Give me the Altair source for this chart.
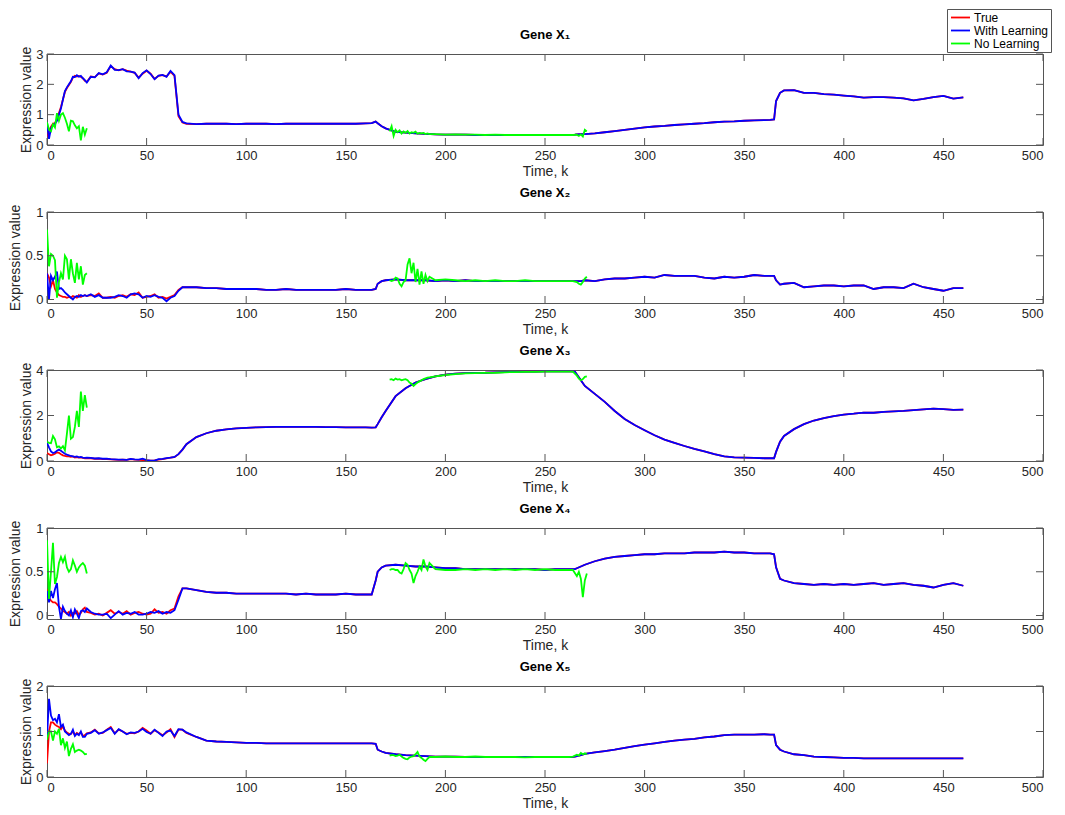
import altair as alt
import pandas as pd

FONT = "Liberation Sans"
FRAME = "#555555"
TXT = "#262626"

SERIES = ["True", "With Learning", "No Learning"]
COLORS = ["#ff0000", "#0000ff", "#00ff00"]

XTICKS = [0, 50, 100, 150, 200, 250, 300, 350, 400, 450, 500]
YTICKS = [[0, 1, 2, 3], [0, 0.5, 1], [0, 2, 4], [0, 0.5, 1], [0, 1, 2]]
YDOM = [[0, 3], [-0.04, 1], [0, 4], [-0.04, 1], [0, 2]]
TITLES = ["Gene X\u2081", "Gene X\u2082", "Gene X\u2083", "Gene X\u2084", "Gene X\u2085"]

# time grid of the True / With Learning curves
T = [0, 1, 2, 3, 4, 5, 6, 7, 8, 9, 10, 11, 12, 13, 14, 15, 16, 17, 18, 19, 20,
     22, 24, 26, 28, 30, 32, 34, 36, 38, 40, 42, 44, 46, 48, 50, 52, 54, 56, 58, 60, 62, 64, 66, 68, 70,
     75, 80, 85, 90, 95, 100, 105, 110, 115, 120, 125, 130, 135, 140, 145, 150, 155, 160,
     163, 165, 166, 168,
     170, 175, 180, 185, 190, 195, 200, 205, 210, 215, 220, 225, 230, 235, 240, 245, 250, 255, 260,
     263, 265, 266, 268,
     270, 275, 280, 285, 290, 295, 300, 305, 310, 315, 320, 325, 330, 335, 340, 345, 350, 355, 360,
     363, 365, 366, 368,
     370, 375, 380, 385, 390, 395, 400, 405, 410, 415, 420, 425, 430, 435, 440, 445, 450, 455, 460]

TRUE_X1 = [0.28, 0.45, 0.6, 0.7, 0.72, 0.85, 1.05, 1.25, 1.5, 1.75, 1.88, 1.98, 2.08, 2.22, 2.28, 2.26, 2.28, 2.25, 2.2, 2.12, 2.08,
           2.26, 2.24, 2.36, 2.32, 2.38, 2.6, 2.5, 2.46, 2.5, 2.45, 2.42, 2.38, 2.22, 2.35, 2.45, 2.35, 2.18, 2.28, 2.3, 2.26, 2.42, 2.28, 0.95, 0.74, 0.7,
           0.69, 0.7, 0.7, 0.7, 0.69, 0.7, 0.7, 0.7, 0.69, 0.7, 0.7, 0.7, 0.7, 0.7, 0.7, 0.7, 0.7, 0.71,
           0.72, 0.77, 0.72, 0.62,
           0.55, 0.43, 0.41, 0.38, 0.37, 0.35, 0.34, 0.34, 0.34, 0.33, 0.33, 0.33, 0.33, 0.33, 0.33, 0.33, 0.33, 0.33, 0.33,
           0.33, 0.34, 0.35, 0.36,
           0.36, 0.38, 0.42, 0.46, 0.5, 0.54, 0.58, 0.61, 0.63, 0.66, 0.68, 0.7, 0.72, 0.75, 0.77, 0.78, 0.8, 0.81, 0.82,
           0.83, 0.84, 1.45, 1.72,
           1.8, 1.81, 1.72, 1.72, 1.68, 1.66, 1.63, 1.6, 1.56, 1.58, 1.58, 1.56, 1.54, 1.47, 1.52, 1.58, 1.62, 1.53, 1.57]
LEARN_X1_EARLY = [0.75, 0.2, 0.55, 0.65, 0.7, 0.8, 1.0, 1.2, 1.5, 1.78, 1.9, 2.0, 2.1, 2.25, 2.24, 2.3, 2.25, 2.28, 2.2, 2.14, 2.06,
                  2.25, 2.23, 2.37, 2.33, 2.4, 2.62, 2.48, 2.47, 2.5, 2.43, 2.42, 2.39, 2.2, 2.37, 2.46, 2.34, 2.17, 2.29, 2.31, 2.25, 2.44, 2.3, 1.0, 0.76, 0.71]

TRUE_X2 = [0.3, 0.25, 0.15, 0.22, 0.12, 0.08, 0.05, 0.04, 0.03, 0.03, 0.02, 0.03, 0.02, 0.04, 0.03, 0.02, 0.05, 0.03, 0.04, 0.05, 0.04,
           0.05, 0.04, 0.07, 0.02, 0.02, 0.03, 0.02, 0.04, 0.05, 0.03, 0.06, 0.05, 0.08, 0.02, 0.03, 0.04, 0.06, 0.02, 0.03, 0.01, 0.03, 0.05, 0.11, 0.14, 0.14,
           0.14, 0.13, 0.13, 0.12, 0.12, 0.12, 0.12, 0.11, 0.11, 0.12, 0.11, 0.11, 0.11, 0.11, 0.11, 0.12, 0.11, 0.11,
           0.11, 0.12, 0.18, 0.21,
           0.22, 0.23, 0.22, 0.22, 0.22, 0.21, 0.22, 0.21, 0.22, 0.21, 0.21, 0.21, 0.21, 0.21, 0.21, 0.21, 0.21, 0.21, 0.21,
           0.21, 0.21, 0.21, 0.21,
           0.22, 0.21, 0.23, 0.24, 0.24, 0.25, 0.26, 0.25, 0.28, 0.27, 0.27, 0.27, 0.25, 0.24, 0.26, 0.25, 0.26, 0.28, 0.27,
           0.27, 0.27, 0.22, 0.17,
           0.18, 0.19, 0.14, 0.15, 0.16, 0.16, 0.15, 0.16, 0.16, 0.12, 0.14, 0.14, 0.13, 0.18, 0.14, 0.12, 0.1, 0.13, 0.13]
LEARN_X2_EARLY = [0.3, 0.0, 0.27, 0.22, 0.26, 0.32, 0.12, 0.13, 0.11, 0.08, 0.06, 0.04, 0.02, 0.0, 0.03, 0.04, 0.03, 0.05, 0.04, 0.05, 0.04,
                  0.06, 0.03, 0.05, 0.02, 0.02, 0.02, 0.03, 0.05, 0.04, 0.02, 0.06, 0.07, 0.06, 0.02, 0.04, 0.03, 0.05, 0.03, 0.02, -0.02, 0.02, 0.04, 0.1, 0.14, 0.14]

TRUE_X3 = [0.35, 0.3, 0.25, 0.28, 0.32, 0.38, 0.36, 0.3, 0.25, 0.22, 0.2, 0.2, 0.18, 0.2, 0.15, 0.17, 0.15, 0.16, 0.14, 0.12, 0.13,
           0.12, 0.1, 0.1, 0.08, 0.08, 0.07, 0.06, 0.05, 0.06, 0.05, 0.08, 0.06, 0.05, 0.04, 0.03, 0.02, 0.03, 0.06, 0.08, 0.12, 0.15, 0.17, 0.3, 0.5, 0.74,
           1.05, 1.22, 1.33, 1.39, 1.43, 1.46, 1.48, 1.49, 1.5, 1.5, 1.5, 1.5, 1.5, 1.49, 1.49, 1.48, 1.48, 1.48,
           1.47, 1.48, 1.62, 1.92,
           2.2, 2.85, 3.2, 3.45, 3.6, 3.72, 3.8, 3.84, 3.86, 3.87, 3.88, 3.9, 3.91, 3.92, 3.93, 3.93, 3.94, 3.94, 3.94,
           3.94, 3.93, 3.8, 3.55,
           3.3, 2.95, 2.6, 2.2, 1.85, 1.58, 1.35, 1.13, 0.94, 0.8, 0.66, 0.53, 0.42, 0.3, 0.2, 0.16, 0.15, 0.14, 0.12,
           0.12, 0.12, 0.4, 0.85,
           1.1, 1.4, 1.62, 1.78, 1.88, 1.97, 2.04, 2.08, 2.13, 2.12, 2.16, 2.18, 2.2, 2.24, 2.27, 2.3, 2.28, 2.25, 2.26]
LEARN_X3_EARLY = [0.8, 0.6, 0.42, 0.35, 0.38, 0.45, 0.5, 0.45, 0.38, 0.32, 0.28, 0.25, 0.22, 0.2, 0.18, 0.2, 0.16, 0.18, 0.15, 0.14, 0.15,
                  0.14, 0.11, 0.12, 0.1, 0.1, 0.08, 0.07, 0.06, 0.06, 0.05, 0.09, 0.07, 0.06, 0.1, 0.04, 0.02, 0.02, 0.08, 0.09, 0.13, 0.15, 0.18, 0.3, 0.5, 0.74]

TRUE_X4 = [0.3, 0.2, 0.17, 0.15, 0.15, 0.13, 0.1, 0.08, 0.05, 0.04, 0.02, 0.04, 0.0, 0.03, 0.02, 0.05, 0.01, 0.03, 0.07, 0.09, 0.04,
           0.03, 0.01, 0.02, 0.0, 0.03, 0.06, 0.02, 0.04, 0.02, 0.05, 0.01, 0.03, 0.04, 0.02, 0.01, 0.02, 0.07, 0.03, 0.04, 0.02, 0.06, 0.08, 0.22, 0.31, 0.31,
           0.29, 0.27, 0.26, 0.26, 0.25, 0.25, 0.25, 0.25, 0.25, 0.25, 0.24, 0.25, 0.24, 0.24, 0.24, 0.25, 0.24, 0.24,
           0.24, 0.4, 0.5, 0.55,
           0.57, 0.58, 0.57, 0.56, 0.56, 0.55, 0.54, 0.54, 0.53, 0.53, 0.53, 0.53, 0.53, 0.53, 0.53, 0.53, 0.52, 0.53, 0.53,
           0.53, 0.53, 0.54, 0.56,
           0.58, 0.62, 0.65, 0.67, 0.68, 0.69, 0.7, 0.7, 0.71, 0.71, 0.71, 0.72, 0.72, 0.72, 0.73, 0.72, 0.72, 0.71, 0.71,
           0.71, 0.7, 0.55, 0.42,
           0.4, 0.37, 0.36, 0.35, 0.36, 0.35, 0.36, 0.35, 0.36, 0.37, 0.35, 0.36, 0.37, 0.35, 0.34, 0.32, 0.35, 0.37, 0.34]
LEARN_X4_EARLY = [0.28, 0.15, 0.28, 0.2, 0.3, 0.37, 0.1, -0.04, 0.1, 0.05, 0.02, 0.0, 0.06, -0.02, 0.07, 0.02, -0.03, 0.05, 0.06, 0.04, 0.08,
                  0.04, 0.02, 0.01, 0.01, 0.02, -0.03, 0.01, 0.05, 0.01, 0.03, 0.02, 0.04, 0.01, 0.01, 0.02, 0.04, 0.03, 0.05, 0.02, 0.04, 0.03, 0.06, 0.18, 0.31, 0.31]

TRUE_X5 = [0.3, 1.0, 1.2, 1.2, 1.15, 1.12, 1.1, 1.05, 1.12, 1.02, 0.98, 0.95, 0.95, 1.0, 0.92, 0.97, 0.94, 0.98, 0.9, 0.92, 0.96,
           0.98, 1.04, 0.96, 0.97, 1.04, 1.1, 0.96, 1.04, 1.0, 0.95, 0.97, 0.96, 1.0, 1.08, 1.02, 0.95, 1.03, 0.98, 0.92, 0.98, 1.05, 0.88, 1.04, 1.04, 0.97,
           0.88, 0.8, 0.78, 0.77, 0.76, 0.75, 0.75, 0.74, 0.74, 0.74, 0.74, 0.74, 0.74, 0.74, 0.74, 0.74, 0.74, 0.74,
           0.74, 0.73, 0.6, 0.56,
           0.53, 0.5, 0.48, 0.47, 0.46, 0.45, 0.45, 0.45, 0.44, 0.44, 0.44, 0.44, 0.44, 0.44, 0.44, 0.44, 0.44, 0.44, 0.44,
           0.44, 0.45, 0.46, 0.48,
           0.51, 0.54, 0.57, 0.6, 0.64, 0.68, 0.71, 0.74, 0.77, 0.8, 0.82, 0.84, 0.87, 0.89, 0.92, 0.93, 0.93, 0.93, 0.94,
           0.93, 0.93, 0.7, 0.6,
           0.56, 0.5, 0.48, 0.45, 0.44, 0.43, 0.42, 0.42, 0.41, 0.41, 0.41, 0.41, 0.41, 0.41, 0.41, 0.41, 0.41, 0.41, 0.41]
LEARN_X5_EARLY = [0.85, 1.72, 1.35, 1.25, 1.28, 1.2, 1.38, 1.1, 1.15, 1.0, 0.96, 0.92, 0.95, 1.04, 0.9, 0.95, 0.92, 1.0, 0.88, 0.88, 0.95,
                  0.97, 1.03, 0.95, 0.98, 1.03, 1.08, 0.95, 1.05, 1.0, 0.94, 0.98, 0.97, 1.0, 1.06, 0.99, 0.95, 1.04, 0.97, 0.9, 1.0, 1.02, 0.9, 1.05, 1.04, 0.98]

# No Learning: two stretches of time
NL_T1 = [0, 1, 2, 3, 4, 5, 6, 7, 8, 9, 10, 11, 12, 13, 14, 15, 16, 17, 18, 19, 20]
NL_T2 = [172, 173, 174, 175, 176, 177, 178, 179, 180, 181, 182, 183, 184, 185, 186, 187, 188, 189, 190, 191, 192,
         195, 200, 205, 210, 215, 220, 225, 230, 235, 240, 245, 250, 255, 260,
         262, 264, 266, 267, 268, 269, 270, 271]

NL_X1 = [0.75, 0.5, 0.45, 0.68, 0.58, 1.05, 0.8, 1.0, 1.05, 0.9, 0.7, 0.45, 0.8, 0.78, 0.65, 0.55, 0.62, 0.15, 0.6, 0.34, 0.55,
         0.45, 0.62, 0.3, 0.5, 0.42, 0.48, 0.38, 0.45, 0.4, 0.46, 0.38, 0.42, 0.4, 0.44, 0.37, 0.4, 0.38, 0.4, 0.36, 0.38, 0.36,
         0.36, 0.34, 0.35, 0.34, 0.34, 0.33, 0.34, 0.33, 0.33, 0.33, 0.33, 0.33, 0.33, 0.33,
         0.33, 0.33, 0.34, 0.3, 0.35, 0.28, 0.5, 0.45]
NL_X2 = [0.8, 0.38, 0.52, 0.5, 0.45, 0.02, 0.2, 0.3, 0.23, 0.5, 0.46, 0.23, 0.46, 0.3, 0.19, 0.42, 0.23, 0.38, 0.17, 0.28, 0.3,
         0.22, 0.21, 0.22, 0.25, 0.24, 0.18, 0.15, 0.2, 0.22, 0.4, 0.47, 0.3, 0.42, 0.2, 0.35, 0.17, 0.32, 0.18, 0.28, 0.21, 0.26,
         0.22, 0.23, 0.22, 0.21, 0.22, 0.21, 0.22, 0.21, 0.21, 0.22, 0.21, 0.21, 0.21, 0.21,
         0.21, 0.21, 0.2, 0.18, 0.17, 0.2, 0.24, 0.26]
NL_X3 = [0.85, 0.8, 0.78, 1.1, 0.95, 0.6, 0.64, 0.55, 0.65, 0.47, 1.2, 2.0, 0.98, 1.05, 1.5, 2.2, 1.5, 3.05, 2.2, 2.9, 2.35,
         3.58, 3.6, 3.55, 3.62, 3.58, 3.6, 3.55, 3.58, 3.6, 3.55, 3.45, 3.4, 3.3, 3.38, 3.45, 3.5, 3.55, 3.6, 3.63, 3.66, 3.68,
         3.72, 3.78, 3.82, 3.85, 3.86, 3.87, 3.88, 3.9, 3.91, 3.92, 3.92, 3.93, 3.93, 3.93,
         3.93, 3.93, 3.75, 3.62, 3.55, 3.6, 3.7, 3.72]
NL_X4 = [0.86, 0.19, 0.5, 0.83, 0.36, 0.44, 0.6, 0.67, 0.61, 0.67, 0.55, 0.5, 0.53, 0.63, 0.57, 0.5, 0.55, 0.58, 0.6, 0.57, 0.48,
         0.52, 0.53, 0.53, 0.52, 0.52, 0.49, 0.48, 0.53, 0.6, 0.58, 0.52, 0.48, 0.37, 0.45, 0.5, 0.56, 0.52, 0.64, 0.56, 0.52, 0.6,
         0.53, 0.52, 0.52, 0.53, 0.52, 0.53, 0.52, 0.53, 0.52, 0.53, 0.52, 0.53, 0.52, 0.52,
         0.52, 0.52, 0.45, 0.5, 0.42, 0.21, 0.4, 0.48]
NL_X5 = [0.82, 1.0, 1.0, 0.8, 1.0, 0.95, 1.06, 0.7, 0.85, 0.64, 0.78, 0.46, 0.62, 0.72, 0.55, 0.58, 0.6, 0.58, 0.55, 0.5, 0.51,
         0.47, 0.48, 0.48, 0.46, 0.47, 0.49, 0.45, 0.42, 0.4, 0.39, 0.43, 0.45, 0.46, 0.5, 0.55, 0.45, 0.42, 0.38, 0.35, 0.4, 0.44,
         0.44, 0.45, 0.44, 0.44, 0.45, 0.44, 0.44, 0.44, 0.44, 0.43, 0.44, 0.44, 0.44, 0.44,
         0.44, 0.45, 0.49, 0.47, 0.53, 0.5, 0.52, 0.5]

TRUE = [TRUE_X1, TRUE_X2, TRUE_X3, TRUE_X4, TRUE_X5]
# after k = 70 the With Learning curve lies on the True curve
LEARN = [e + t[len(e):] for e, t in zip(
    [LEARN_X1_EARLY, LEARN_X2_EARLY, LEARN_X3_EARLY, LEARN_X4_EARLY, LEARN_X5_EARLY], TRUE)]
NOLEARN = [NL_X1, NL_X2, NL_X3, NL_X4, NL_X5]

W, H = 996, 91
TICK = 7

LEGEND = alt.Legend(title=None, orient="none", legendX=900, legendY=-45,
                    symbolType="stroke", symbolSize=361, symbolStrokeWidth=1.8,
                    symbolOffset=1,
                    labelFont=FONT, labelFontSize=12, labelColor="#000000",
                    strokeColor=FRAME, fillColor="white", padding=2,
                    rowPadding=0, labelOffset=3, clipHeight=13)


def panel(i):
    tr = pd.DataFrame({"k": T, "v": TRUE[i], "s": "True", "seg": "a"})
    wl = pd.DataFrame({"k": T, "v": LEARN[i], "s": "With Learning", "seg": "a"})
    nl = pd.DataFrame({"k": NL_T1 + NL_T2, "v": NOLEARN[i], "s": "No Learning",
                       "seg": ["a"] * len(NL_T1) + ["b"] * len(NL_T2)})
    xs = alt.Scale(domain=[0, 500], nice=False)
    ys = alt.Scale(domain=YDOM[i], nice=False, zero=False)
    xenc = alt.X("k:Q", scale=xs, axis=alt.Axis(values=XTICKS, title="Time, k", format="d"))
    yenc = alt.Y("v:Q", scale=ys, axis=alt.Axis(values=YTICKS[i], title="Expression value", format="~r"))
    cenc = alt.Color("s:N", scale=alt.Scale(domain=SERIES, range=COLORS), legend=LEGEND)

    def line(df):
        return alt.Chart(df).mark_line(strokeWidth=1.8, clip=True).encode(
            x=xenc, y=yenc, color=cenc, detail="seg:N")

    xt = pd.DataFrame({"k": XTICKS})
    yt = pd.DataFrame({"v": YTICKS[i]})
    rule = dict(color=FRAME, strokeWidth=1)
    xb = alt.Chart(xt).mark_rule(**rule).encode(x=xenc, y=alt.value(H), y2=alt.value(H - TICK))
    xtop = alt.Chart(xt).mark_rule(**rule).encode(x=xenc, y=alt.value(0), y2=alt.value(TICK))
    yl = alt.Chart(yt).mark_rule(**rule).encode(y=yenc, x=alt.value(0), x2=alt.value(TICK))
    yr = alt.Chart(yt).mark_rule(**rule).encode(y=yenc, x=alt.value(W), x2=alt.value(W - TICK))

    return alt.layer(line(tr), line(wl), line(nl), xb, xtop, yl, yr).properties(
        width=W, height=H, title=alt.Title(TITLES[i]))


chart = alt.vconcat(*[panel(i) for i in range(5)], spacing=7).properties(
    padding={"left": 0, "top": 0, "right": 0, "bottom": 0}
).configure_view(stroke=FRAME, strokeWidth=1).configure_axis(
    labelFont=FONT, titleFont=FONT, labelFontSize=13, titleFontSize=14,
    labelColor=TXT, titleColor=TXT, grid=False, domain=False, ticks=False,
    labelPadding=4, titleFontWeight="normal", titlePadding=2
).configure_title(font=FONT, fontSize=13, fontWeight="bold", color="#000000", offset=0)

chart.save("out.html", embed_options={"renderer": "svg", "actions": False})
